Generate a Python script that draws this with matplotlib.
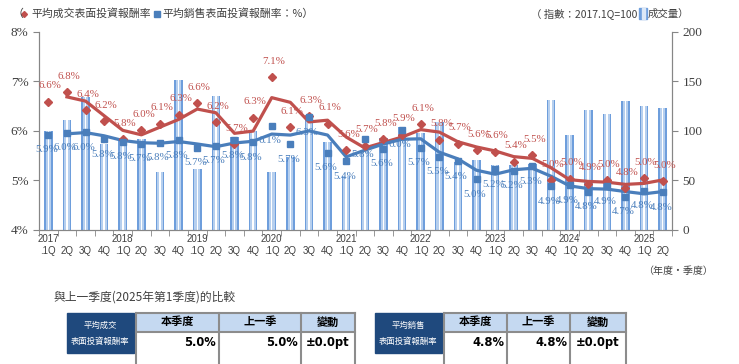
import numpy as np
import matplotlib.pyplot as plt
import pandas as pd
from matplotlib.patches import Rectangle

plt.rcParams['font.family'] = ['Noto Sans CJK TC', 'DejaVu Sans']

# 2017.1Q ... 2025.2Q
years = ['2017', '2018', '2019', '2020', '2021', '2022', '2023', '2024', '2025']
quarters = ['.1Q', '2Q', '3Q', '4Q']

# 平均成交表面投資報酬率 (%)
deal_yield = [6.59, 6.78, 6.42, 6.19, 5.83, 6.01, 6.14, 6.32, 6.56, 6.17, 5.73, 6.26,
              7.08, 6.07, 6.29, 6.14, 5.61, 5.70, 5.83, 5.92, 6.13, 5.82, 5.74, 5.61,
              5.58, 5.38, 5.51, 5.00, 5.03, 4.93, 5.00, 4.84, 5.04, 4.98]
# 平均銷售表面投資報酬率 (%)
sale_yield = [5.92, 5.96, 5.97, 5.83, 5.78, 5.74, 5.76, 5.81, 5.66, 5.70, 5.81, 5.77,
              6.10, 5.73, 6.27, 5.56, 5.39, 5.83, 5.64, 6.02, 5.66, 5.48, 5.39, 5.02,
              5.23, 5.20, 5.29, 4.88, 4.90, 4.77, 4.88, 4.67, 4.79, 4.76]
# 成交量 (指數: 2017.1Q=100)
volume = [100, 111, 134, 87, 91, 92, 58.5, 151, 61.5, 135, 94, 100,
          58.5, 73.5, 116, 88.5, 54.5, 79.7, 92.5, 104, 98, 109, 69, 71,
          66, 66, 67, 131, 95.5, 121, 117, 130, 125, 123]

# comparison tables
tbl_headers = ['本季度', '上一季', '變動']
deal_cmp = ['5.0%', '5.0%', '±0.0pt']
sale_cmp = ['4.8%', '4.8%', '±0.0pt']

RED = '#c0504d'
BLUE = '#4a7ebb'
GRAY = '#404040'
SERIF = 'Liberation Serif'
BAR_OUT = '#6e9edc'
BAR_MID = '#b6cfee'

labels = []
for y in years:
    for q in quarters:
        labels.append(q)
labels = labels[:len(deal_yield)]
tick_labels = []
for i, q in enumerate(labels):
    if i % 4 == 0:
        tick_labels.append(years[i // 4] + '\n' + q)
    else:
        tick_labels.append('\n' + q)

x = np.arange(len(deal_yield))
deal_ma = pd.Series(deal_yield).rolling(2).mean()
sale_ma = pd.Series(sale_yield).rolling(2).mean()

fig = plt.figure(figsize=(7.39, 3.64), dpi=100)
ax = fig.add_axes([39 / 739, 1 - 230 / 364, (672 - 39) / 739, (230 - 31.7) / 364])
ax2 = ax.twinx()

# volume bars with striped look
ax2.bar(x, volume, width=0.46, color=BAR_OUT, zorder=1)
ax2.bar(x, volume, width=0.30, color=BAR_MID, zorder=2)
ax2.bar(x, volume, width=0.08, color='white', zorder=3)
ax2.set_ylim(0, 200)
ax2.set_yticks([0, 50, 100, 150, 200])

ax.set_zorder(ax2.get_zorder() + 1)
ax.patch.set_visible(False)

ax.plot(x, deal_ma, color=RED, lw=2.3, zorder=3)
ax.plot(x, sale_ma, color=BLUE, lw=2.3, zorder=3)
ax.plot(x, deal_yield, 'D', color=RED, ms=4.3, zorder=4)
ax.plot(x, sale_yield, 's', color=BLUE, ms=5, zorder=5)

for xi, v in zip(x, deal_yield):
    ax.annotate(f'{v:.1f}%', (xi, v), xytext=(2, 16), textcoords='offset pixels',
                ha='center', va='center', color=RED, fontsize=7.8, family=SERIF, zorder=6)
for xi, v in zip(x, sale_yield):
    ax.annotate(f'{v:.1f}%', (xi, v), xytext=(-2, -15), textcoords='offset pixels',
                ha='center', va='center', color=BLUE, fontsize=7.8, family=SERIF, zorder=6)

ax.set_xlim(-0.5, len(x) - 0.5)
ax.set_ylim(4, 8)
ax.set_yticks([4, 5, 6, 7, 8])
ax.set_yticklabels([f'{v}%' for v in range(4, 9)], family=SERIF, fontsize=9.5, color=GRAY)
ax2.set_yticklabels([str(v) for v in [0, 50, 100, 150, 200]], family=SERIF, fontsize=9.5, color=GRAY)

ax.set_xticks(x)
ax.set_xticklabels(tick_labels, family='Liberation Sans', fontsize=7, color=GRAY,
                   linespacing=1.25)
ax.set_xticks(np.arange(-0.5, len(x), 1), minor=True)
ax.tick_params(axis='x', which='major', length=0, pad=3)
ax.tick_params(axis='x', which='minor', length=4, color='#868686')
ax.tick_params(axis='y', length=4, color='#868686')
ax2.tick_params(axis='y', length=4, color='#868686')

for a in (ax, ax2):
    a.spines['top'].set_visible(False)
    for s in ('left', 'right', 'bottom'):
        a.spines[s].set_color('#868686')

# overlay in pixel coordinates for legend and tables
ov = fig.add_axes([0, 0, 1, 1], zorder=-5)
ov.set_xlim(0, 739)
ov.set_ylim(364, 0)
ov.axis('off')

ov.text(12, 13.5, '（', fontsize=7.8, color=GRAY, va='center')
ov.plot(24, 13.5, 'D', color=RED, ms=3)
ov.text(31, 13.5, '平均成交表面投資報酬率', fontsize=7.8, color=GRAY, va='center')
ov.plot(157, 13.5, 's', color=BLUE, ms=4)
ov.text(162, 13.5, '平均銷售表面投資報酬率：%）', fontsize=7.8, color=GRAY, va='center')

ov.text(637, 13.5, '（ 指數：2017.1Q=100', fontsize=7.5, color=GRAY, va='center', ha='right')
ov.add_patch(Rectangle((639, 8), 8, 11, color=BAR_OUT))
ov.add_patch(Rectangle((641.5, 8), 3, 11, color='#dce8f7'))
ov.text(648, 13.5, '成交量）', fontsize=7.5, color=GRAY, va='center')

ov.text(643, 271, '（年度‧季度）', fontsize=7.2, color=GRAY, va='center')
ov.text(53, 297, '與上一季度(2025年第1季度)的比較', fontsize=8.5, color=GRAY, va='center')


def draw_table(x0, title, col_edges, values):
    ov.add_patch(Rectangle((x0, 313), 67, 40, color='#1f497d'))
    ov.text(x0 + 33.5, 325, title[0], fontsize=6, color='white', ha='center', va='center')
    ov.text(x0 + 33.5, 341, title[1], fontsize=6, color='white', ha='center', va='center')
    for i in range(3):
        l, r = col_edges[i], col_edges[i + 1]
        ov.add_patch(Rectangle((l, 313), r - l, 18.5, facecolor='#c5d9f1', edgecolor='none'))
        ov.text((l + r) / 2, 322, tbl_headers[i], fontsize=8, weight='bold', color='black',
                ha='center', va='center')
        if i < 2:
            ov.text(r - 3, 342.5, values[i], fontsize=8.3, weight='bold', color='black',
                    ha='right', va='center', family='DejaVu Sans')
        else:
            ov.text((l + r) / 2, 342.5, values[i], fontsize=8.3, weight='bold', color='black',
                    ha='center', va='center', family='DejaVu Sans')
    for e in col_edges:
        ov.plot([e, e], [313, 364], color='#8c8c8c', lw=1.5)
    ov.plot([col_edges[0], col_edges[-1]], [313, 313], color='#8c8c8c', lw=1.5)
    ov.plot([col_edges[0], col_edges[-1]], [331.5, 331.5], color='#8c8c8c', lw=1.5)


draw_table(67, ['平均成交', '表面投資報酬率'], [136, 219, 301, 355], deal_cmp)
draw_table(375, ['平均銷售', '表面投資報酬率'], [444, 507, 570, 626], sale_cmp)

fig.savefig('out.png', dpi=100)
